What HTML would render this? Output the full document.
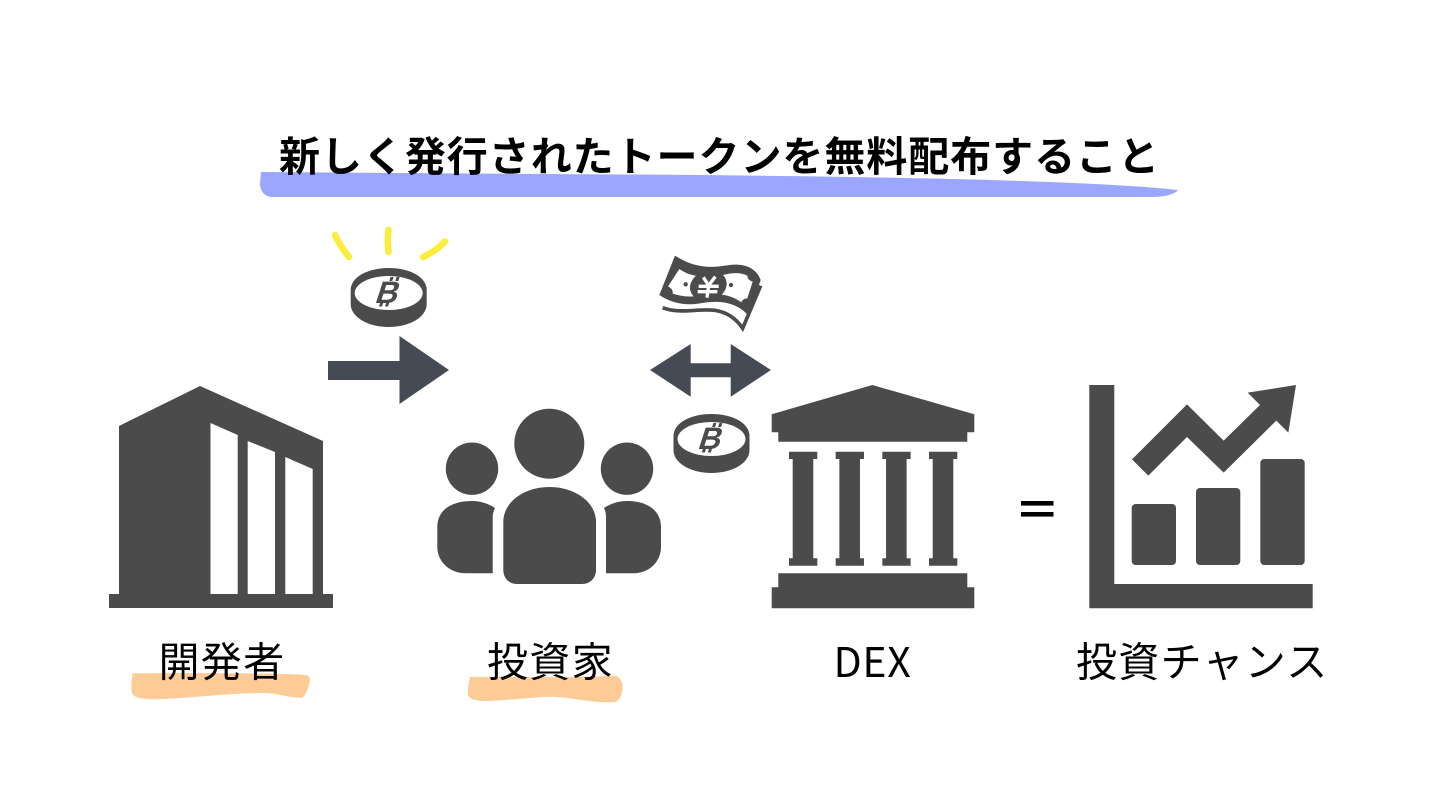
<!DOCTYPE html>
<html lang="ja">
<head>
<meta charset="utf-8">
<title>新しく発行されたトークンを無料配布すること</title>
<style>
html,body{margin:0;padding:0;background:#fff;width:1440px;height:810px;overflow:hidden}
svg{display:block}
text{font-family:"Liberation Sans","Noto Sans CJK JP",sans-serif}
.cjk{font-family:"Noto Sans CJK JP","Liberation Sans",sans-serif;font-size:41px;fill:#000;letter-spacing:1.3px}
.hl{mix-blend-mode:multiply}
</style>
</head>
<body>
<svg width="1440" height="810" viewBox="0 0 1440 810" xmlns="http://www.w3.org/2000/svg">
<rect width="1440" height="810" fill="#fff"/>
<defs>
<g id="coin">
  <path d="M-38 0C-38-13-21-22 0-22S38-13 38 0V14C38 27 21 37 0 37S-38 27-38 14Z" fill="#4b4b4b"/>
  <ellipse cx="0" cy="3" rx="34" ry="17" fill="#fff"/>
  <g transform="translate(0 2) skewX(-18)" fill="#4b4b4b">
    <text x="0" y="11" text-anchor="middle" font-size="31" font-weight="700" style="font-family:'Liberation Sans',sans-serif">B</text>
    <rect x="-3" y="-15" width="3" height="4"/>
    <rect x="3" y="-15" width="3" height="4"/>
    <rect x="-5" y="10.5" width="3" height="4"/>
    <rect x="1" y="10.5" width="3" height="4"/>
  </g>
</g>
</defs>

<!-- Title -->
<text x="279" y="171" class="cjk" style="font-weight:700;letter-spacing:.95px">新しく発行されたトークンを無料配布すること</text>
<path class="hl" d="M261 172 L700 175 C900 177 1100 181 1178 190 C1175 194 1166 197 1150 197 L272 197 C265 197 260 191 260 184Z" fill="#9ba7ff"/>

<!-- Building -->
<path fill-rule="evenodd" fill="#4b4b4b" d="M200 386 L323 441 V594 H333 V608 H109 V594 H119 V426 Z
M210.5 423 V594 H237.7 V435 Z
M247.7 441 V594 H275 V452 Z
M285.3 457 V594 H312.7 V469 Z"/>

<!-- Investors -->
<g fill="#4b4b4b">
  <circle cx="549.3" cy="443.7" r="35"/>
  <circle cx="472" cy="468.7" r="26.2"/>
  <circle cx="627" cy="468.7" r="26.2"/>
  <path d="M503.3 522 C503.3 502 524 487 549.5 487 S596 502 596 522 V570 C596 578 590 584 582 584 H517 C509 584 503.3 578 503.3 570 Z"/>
  <path d="M437.3 527 C437.3 511 450 501 472 501 C481 501 489 504 495 508 C493 512 492.7 515 492.7 518 V573.3 H466 C449 573.3 437.3 561 437.3 547 Z"/>
  <path d="M661 527 C661 511 648 501 627 501 C618 501 610 504 604 508 C606 512 606 515 606 518 V573.3 H633 C650 573.3 661 561 661 547 Z"/>
</g>

<!-- DEX temple -->
<g fill="#4b4b4b">
  <path d="M872.3 385 L974.3 414.3 V432.3 H967.3 V441.7 H778.3 V432.3 H771.7 V414.3 Z"/>
  <path d="M789 451.7 H817.3 V459 H813.3 V558.3 H817.3 V565.7 H789 V558.3 H792.7 V459 H789 Z"/>
  <path transform="translate(46.67 0)" d="M789 451.7 H817.3 V459 H813.3 V558.3 H817.3 V565.7 H789 V558.3 H792.7 V459 H789 Z"/>
  <path transform="translate(93.33 0)" d="M789 451.7 H817.3 V459 H813.3 V558.3 H817.3 V565.7 H789 V558.3 H792.7 V459 H789 Z"/>
  <path transform="translate(140 0)" d="M789 451.7 H817.3 V459 H813.3 V558.3 H817.3 V565.7 H789 V558.3 H792.7 V459 H789 Z"/>
  <path d="M778.3 573.3 H967.3 V587.3 H974.3 V608.3 H771.7 V587.3 H778.3 Z"/>
</g>

<!-- Equals -->
<rect x="1021" y="501" width="32.5" height="4.6" fill="#000"/>
<rect x="1021" y="512" width="32.5" height="4.6" fill="#000"/>

<!-- Chart -->
<g fill="#4b4b4b">
  <path d="M1089.3 385 H1114.3 V584 H1312.7 V608.3 H1089.3 Z"/>
  <rect x="1131.7" y="504" width="44.3" height="61" rx="4"/>
  <rect x="1196" y="488" width="44.3" height="77" rx="4"/>
  <rect x="1260.3" y="459" width="44.4" height="106" rx="4"/>
  <path transform="translate(1080 375) scale(.33333)" d="M156 253 L321 88 L431 197 L540 90 L503 53 L648 30 L625 173 L589 137 L431 293 L321 186 L205 302 Z"/>
</g>

<!-- Rays -->
<g fill="none" stroke="#fcec3c" stroke-width="6.5" stroke-linecap="round">
  <path d="M335 235 Q340 246 349 257"/>
  <path d="M388.5 230 Q387 241 388.5 252"/>
  <path d="M445 241.5 Q436 251 423 257"/>
</g>

<!-- Coins -->
<use href="#coin" x="388.7" y="290"/>
<use href="#coin" x="711.5" y="436"/>

<!-- Arrows -->
<path fill="#454a54" d="M328 361 H399.5 V336 L449 370 L399.5 404 V380 H328 Z"/>
<path fill="#454a54" d="M650 370 L690.7 344 V363.3 H730.7 V344 L771 370 L730.7 396.7 V377.3 H690.7 V396.7 Z"/>

<!-- Banknote -->
<g transform="translate(640 245) scale(.33333)">
  <path fill="#4b4b4b" d="M105 32 C150 62 200 72 255 62 C300 54 345 60 362 105 L325 212 C290 170 235 165 180 175 C140 182 95 176 58 150 Z"/>
  <path fill="#fff" d="M118 72 C130 80 138 84 150 88 C195 100 225 95 258 88 C285 82 305 84 322 92 C322 102 330 108 338 110 L322 160 C312 160 306 166 304 172 C275 150 235 142 180 152 C150 157 125 155 98 146 C100 135 92 128 84 124 Z"/>
  <ellipse cx="205" cy="122" rx="56" ry="45" transform="rotate(-18 205 122)" fill="#4b4b4b"/>
  <circle cx="137" cy="118" r="6.5" fill="#4b4b4b"/>
  <circle cx="273" cy="120" r="6.5" fill="#4b4b4b"/>
  <path d="M190 97 L206 121 L226 95 M176 124 H236 M173 140 H232 M206 121 L201 158" fill="none" stroke="#fff" stroke-width="10"/>
  <path d="M68 188 C120 208 170 190 225 196 C262 202 288 220 308 250 L362 122" fill="none" stroke="#4b4b4b" stroke-width="11" stroke-linejoin="miter"/>
</g>

<!-- Labels -->
<text x="158.5" y="676.4" class="cjk">開発者</text>
<text x="487" y="676.4" class="cjk">投資家</text>
<text x="833.5" y="677" class="cjk" style="letter-spacing:.7px">DEX</text>
<text x="1076" y="676.4" class="cjk">投資チャンス</text>

<!-- Orange highlights -->
<path class="hl" fill="#fdcb95" d="M132.7 673.3 C190 673 260 673 300 674.5 C308 675 310 676 310 680 C309 688 305 697 301.7 697.7 C290 698 275 693 266.7 693 C225 693 185 699 153 699.3 C140 699 132 697 131.7 691.7 C131 685 132 678 132.7 673.3 Z"/>
<path class="hl" fill="#fdcb95" d="M470 676.7 C520 677 560 678 616 675.7 C621 678 623 683 622.7 688 C622 696 619 702 613.3 702.3 C590 703 570 697 553 696.7 C530 697 505 701 483 701 C472 700 468 698 468 693 C468 686 469 681 470 676.7 Z"/>
</svg>
</body>
</html>
